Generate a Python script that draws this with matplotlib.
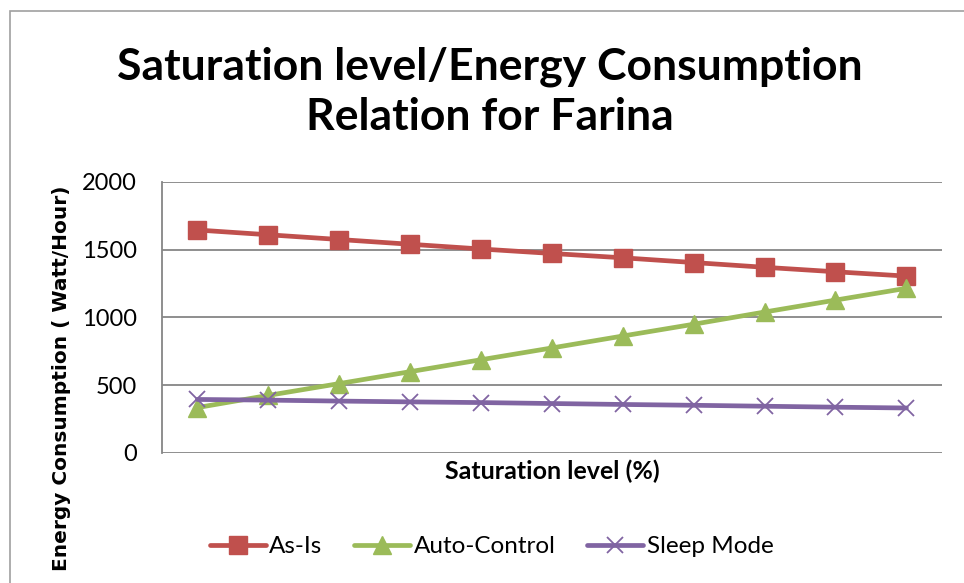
import matplotlib.pyplot as plt
from matplotlib.patches import Rectangle

# data
points = list(range(1, 12))
as_is = [1645, 1610, 1575, 1540, 1505, 1472, 1440, 1405, 1370, 1337, 1305]
auto_control = [335, 425, 512, 600, 688, 775, 863, 950, 1040, 1128, 1215]
sleep_mode = [395, 390, 383, 377, 372, 365, 358, 352, 345, 338, 332]
yticks = [0, 500, 1000, 1500, 2000]

FONT = 'Lato'
GRID = '#868686'

fig = plt.figure(figsize=(9.64, 5.83), dpi=100)
ax = fig.add_axes([0.168, 0.223, 0.809, 0.465])

ax.plot(points, as_is, color='#C0504D', lw=3.4, marker='s', ms=13,
        label='As-Is', solid_capstyle='round')
ax.plot(points, auto_control, color='#9BBB59', lw=3.4, marker='^', ms=13,
        label='Auto-Control', solid_capstyle='round')
ax.plot(points, sleep_mode, color='#8064A2', lw=3.4, marker='x', ms=12,
        mew=1.3, label='Sleep Mode', solid_capstyle='round')

ax.set_xlim(0.5, 11.5)
ax.set_ylim(0, 2000)
ax.set_yticks(yticks)
ax.set_yticklabels([str(t) for t in yticks], fontsize=17, family=FONT)
ax.set_xticks([])
ax.tick_params(axis='y', length=0, pad=18)
ax.yaxis.grid(True, color=GRID, lw=1.3)
ax.set_axisbelow(True)
for s in ['top', 'right', 'bottom']:
    ax.spines[s].set_visible(False)
ax.spines['left'].set_color(GRID)
ax.spines['left'].set_linewidth(1.3)

ax.set_xlabel('Saturation level (%)', fontsize=18, fontweight='bold',
              family=FONT, labelpad=5)
fig.text(0.064, 0.352, 'Energy Consumption ( Watt/Hour)', rotation=90,
         fontsize=14.5, fontweight='bold', family='DejaVu Sans',
         ha='center', va='center')

fig.text(0.508, 0.843, 'Saturation level/Energy Consumption\nRelation for Farina',
         ha='center', va='center', fontsize=32, fontweight='bold',
         family=FONT, linespacing=1.3)

fig.legend(loc='center', bbox_to_anchor=(0.51, 0.062), ncol=3, frameon=False,
           prop={'family': FONT, 'size': 17.5}, handlelength=2.3,
           handletextpad=0.15, columnspacing=1.3)

# light frame around the chart area
fig.patches.append(Rectangle((0.0105, -0.1), 1.2, 1.081, transform=fig.transFigure,
                             fill=False, ec='#A0A0A0', lw=1.2))

fig.savefig('out.png', dpi=100)
